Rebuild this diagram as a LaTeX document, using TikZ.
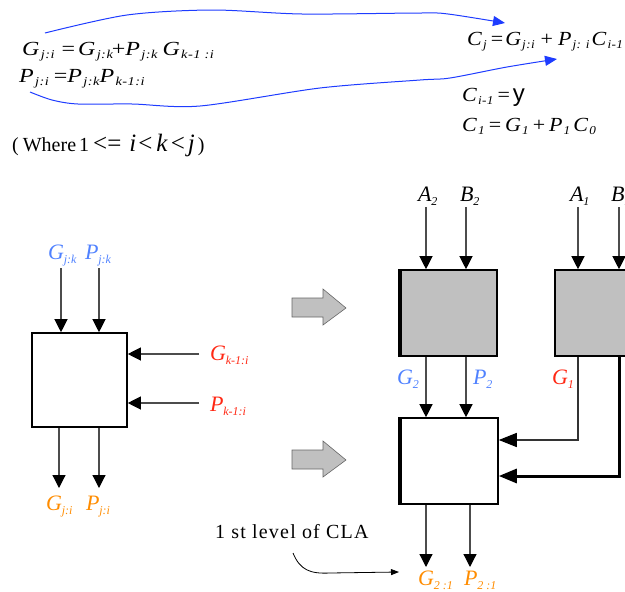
\documentclass[tikz,border=0pt]{standalone}
\usepackage{fontspec}
\setmainfont{Liberation Serif}
\setsansfont{Liberation Sans}
\usetikzlibrary{arrows.meta}
\definecolor{lblue}{RGB}{80,130,255}
\definecolor{lred}{RGB}{255,40,20}
\definecolor{lorange}{RGB}{255,140,0}
\definecolor{cblue}{RGB}{30,60,255}
\definecolor{boxgray}{RGB}{192,192,192}
% block labels: big letter, small subscript
\newcommand\sbx[2]{\textit{#1}\kern-0.3pt\raisebox{-0.45ex}{\fontsize{12}{12}\selectfont\itshape #2}}
% equation terms (font of the node is slightly stretched)
\newcommand\eqs[2]{\textit{#1}\kern0.5pt\raisebox{-0.4ex}{\fontsize{12}{12}\selectfont\itshape #2}}
\newcommand\bigrel[1]{{\fontsize{25}{25}\selectfont #1}}
\begin{document}
\begin{tikzpicture}[x=1pt,y=-1pt,font=\fontsize{22}{24}\selectfont,
  wire/.style={draw=black!70,line width=1.2pt,-{Triangle[length=13pt,width=13pt,color=black]}},
  sidewire/.style={draw=black,line width=1.4pt,-{Triangle[length=18pt,width=14pt,color=black]}},
  lab/.style={anchor=base west,inner sep=0pt},
  eqn/.style={anchor=base west,inner sep=0pt,font=\fontsize{20}{22}\selectfont\addfontfeatures{FakeStretch=1.2,LetterSpace=4}},
  eqr/.style={anchor=base west,inner sep=0pt,font=\fontsize{20}{22}\selectfont\addfontfeatures{FakeStretch=1.1,LetterSpace=3}},
  blk/.style={draw,line width=1.6pt,inner sep=0pt,minimum width=#1},
  curve/.style={draw=cblue,line width=1pt,-{Triangle[length=12pt,width=10pt]}},
  blockarrow/.style={fill=boxgray,draw=black!60,line width=0.6pt}]
\useasboundingbox (0,0) rectangle (625,592);

% equations
\node[eqn] (eq1) at (22,55) {\eqs{G}{j:i}\hspace{7pt}=\hspace{3pt}\eqs{G}{j:k}\kern-1pt+\eqs{P}{j:k}\hspace{5pt}\eqs{G}{k-1 :i}};
\node[eqn] (eq2) at (19,82) {\eqs{P}{j:i}\hspace{5pt}=\eqs{P}{j:k}\eqs{P}{k-1:i}};
\node[lab,font=\fontsize{20}{24}\selectfont] (where) at (12,151)
  {(\hspace{4pt}Where\hspace{3pt}1\hspace{4pt}\bigrel{<=}\hspace{8pt}\bigrel{\textit{i}\hspace{2pt}<\hspace{4pt}\textit{k}\hspace{3pt}<\hspace{3pt}\textit{j}\hspace{3pt}})};
\node[eqr] (eqc) at (467,45) {\eqs{C}{j}\hspace{4pt}=\hspace{2pt}\eqs{G}{j:i}\hspace{6pt}+\hspace{5pt}\eqs{P}{j: i}\hspace{2pt}\eqs{C}{i-1}};
\node[eqr] (eqy) at (462,101) {\eqs{C}{i-1}\hspace{4pt}=\hspace{3pt}{\fontsize{24}{24}\selectfont\sffamily y}};
\node[eqr] (eqc1) at (462,131) {\eqs{C}{1}\hspace{4pt}=\hspace{4pt}\eqs{G}{1}\hspace{4pt}+\hspace{4pt}\eqs{P}{1}\hspace{3pt}\eqs{C}{0}};

% blue curves
\draw[curve] plot[smooth,tension=0.5] coordinates {(45,33) (127,15) (212,10) (302,14) (420,13) (448,14) (505,23)};
\draw[curve] plot[smooth,tension=0.5] coordinates {(30,92) (52,100) (78,104) (132,104) (200,106) (320,88) (420,80) (450,78) (507,67) (557,59)};

% left block
\node[blk=95pt,minimum height=94pt] (L) at (79.5,380) {};
\coordinate (a1) at (61,268);
\coordinate (a2) at (99,268);
\draw[wire] (a1) -- (a1 |- L.north);
\draw[wire] (a2) -- (a2 |- L.north);
\coordinate (gk) at (199,354);
\coordinate (pk) at (199,403);
\draw[wire] (gk) -- (gk -| L.east);
\draw[wire] (pk) -- (pk -| L.east);
\coordinate (o1) at (59,488);
\coordinate (o2) at (99,488);
\draw[wire] (o1 |- L.south) -- (o1);
\draw[wire] (o2 |- L.south) -- (o2);
\node[lab,text=lblue] (lgjk) at (48,259) {\sbx{G}{j:k}};
\node[lab,text=lblue] (lpjk) at (85,259) {\sbx{P}{j:k}};
\node[lab,text=lred] (lgk) at (210,360) {\sbx{G}{k-1:i}};
\node[lab,text=lred] (lpk) at (210,411) {\sbx{P}{k-1:i}};
\node[lab,text=lorange] (lgji) at (46,510) {\sbx{G}{j:i}};
\node[lab,text=lorange] (lpji) at (86,510) {\sbx{P}{j:i}};

% block arrows
\foreach \dy in {0,152}{
  \draw[blockarrow] (292,298+\dy) -- (323,298+\dy) -- (323,289+\dy) -- (346,308+\dy)
     -- (323,325+\dy) -- (323,317+\dy) -- (292,317+\dy) -- cycle;
}

% right top gray boxes
\node[blk=96pt,minimum height=86pt,fill=boxgray] (R1) at (449,313) {};
\node[blk=96pt,minimum height=86pt,fill=boxgray] (R2) at (603,313) {};
\draw[line width=3.5pt] (R1.north west) -- (R1.south west);
\coordinate (ia2) at (426,207);
\coordinate (ib2) at (466,207);
\coordinate (ia1) at (578,207);
\coordinate (ib1) at (619,207);
\draw[wire] (ia2) -- (ia2 |- R1.north);
\draw[wire] (ib2) -- (ib2 |- R1.north);
\draw[wire] (ia1) -- (ia1 |- R2.north);
\draw[wire] (ib1) -- (ib1 |- R2.north);
\node[lab] (la2) at (418,201) {\sbx{A}{2}};
\node[lab] (lb2) at (460,201) {\sbx{B}{2}};
\node[lab] (la1) at (570,201) {\sbx{A}{1}};
\node[lab] (lb1) at (611,201) {\sbx{B}{1}};

% lower white box
\node[blk=97pt,minimum height=86pt] (W) at (449.5,461) {};
\draw[line width=3.5pt] (W.north west) -- (W.south west);
\draw[wire] (ia2 |- R1.south) -- (ia2 |- W.north);
\draw[wire] (ib2 |- R1.south) -- (ib2 |- W.north);
\coordinate (g1) at (578,440);
\coordinate (p1) at (619,476);
\draw[sidewire,draw=black!80,line width=1.3pt] (g1 |- R2.south) -- (g1) -- (g1 -| W.east);
\draw[sidewire,line width=3pt] (p1 |- R2.south) -- (p1) -- (p1 -| W.east);
\node[lab,text=lblue] (lg2) at (397,384) {\sbx{G}{2}};
\node[lab,text=lblue] (lp2) at (473,384) {\sbx{P}{2}};
\node[lab,text=lred] (lg1) at (552,384) {\sbx{G}{1}};
\coordinate (w1) at (426,567);
\coordinate (w2) at (470,567);
\draw[wire] (w1 |- W.south) -- (w1);
\draw[wire] (w2 |- W.south) -- (w2);
\node[lab,text=lorange] (lg21) at (418,585) {\sbx{G}{2 :1}};
\node[lab,text=lorange] (lp21) at (464,585) {\sbx{P}{2 :1}};

% 1st level label
\node[lab,font=\fontsize{20}{22}\selectfont\addfontfeatures{LetterSpace=6}] (cla) at (215,538) {1 st level of CLA};
\coordinate (c0) at (293,553);
\coordinate (c1) at (399,572);
\draw[black,line width=0.8pt,-{Triangle[length=8pt,width=6pt]}] (c0) .. controls (300,570) and (310,574) .. (330,573) -- (c1);
\end{tikzpicture}
\end{document}
